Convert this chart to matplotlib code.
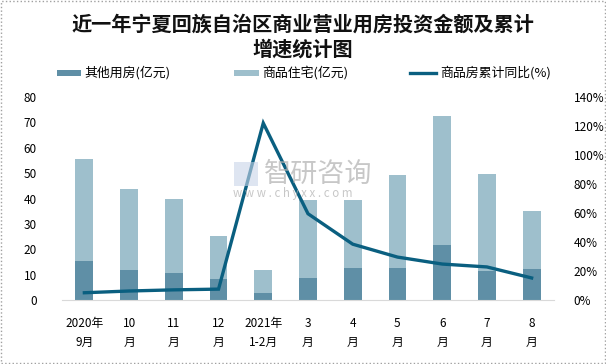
import matplotlib
matplotlib.use("Agg")
import matplotlib.pyplot as plt
from matplotlib.patches import Rectangle
from matplotlib.lines import Line2D
import numpy as np

plt.rcParams['font.family'] = ['Noto Sans CJK SC', 'DejaVu Sans']

categories = ["2020年\n9月", "10\n月", "11\n月", "12\n月", "2021年\n1-2月", "3\n月",
              "4\n月", "5\n月", "6\n月", "7\n月", "8\n月"]
other_use = [15.5, 11.8, 10.6, 8.3, 2.8, 8.7, 12.6, 12.6, 21.5, 11.5, 12.2]
residential = [40.0, 31.9, 29.2, 16.9, 9.0, 30.7, 26.8, 36.6, 50.9, 38.1, 22.8]
growth = [5.0, 6.2, 7.0, 7.5, 122.0, 59.5, 38.5, 29.6, 24.8, 22.8, 15.2]

left_ticks = [0, 10, 20, 30, 40, 50, 60, 70, 80]
right_ticks = [0, 20, 40, 60, 80, 100, 120, 140]
legend_labels = ["其他用房(亿元)", "商品住宅(亿元)", "商品房累计同比(%)"]

c_dark = '#5f8fa6'
c_light = '#9ebfcc'
c_line = '#0a5f80'

W, H = 606, 364
fig = plt.figure(figsize=(6.06, 3.64), dpi=100)
ax = fig.add_axes([62/W, 1-300/H, 492/W, 203/H])
x = np.arange(len(categories))
ax.bar(x, other_use, width=0.4, color=c_dark, zorder=2)
ax.bar(x, residential, width=0.4, bottom=other_use, color=c_light, zorder=2)
ax.set_xlim(-0.5, len(categories) - 0.5)
ax.set_ylim(0, 80)
ax.set_yticks(left_ticks)
ax.set_yticklabels([str(t) for t in left_ticks], fontsize=8.5)
ax.set_xticks(x)
ax.set_xticklabels(categories, fontsize=8.5, linespacing=1.6)
ax.tick_params(length=0, pad=12)
ax.tick_params(axis='y', pad=18)
for s in ['top', 'right', 'left']:
    ax.spines[s].set_visible(False)
ax.spines['bottom'].set_color('#d9d9d9')
ax.spines['bottom'].set_zorder(3)

ax2 = ax.twinx()
ax2.plot(x, growth, color=c_line, lw=2.4, zorder=4, solid_joinstyle='miter')
ax2.set_ylim(0, 140)
ax2.set_yticks(right_ticks)
ax2.set_yticklabels([f"{t}%" for t in right_ticks], fontsize=8.5)
ax2.tick_params(length=0, pad=14)
for s in ['top', 'right', 'left', 'bottom']:
    ax2.spines[s].set_visible(False)

# title
fig.text(0.5, 1-24/H, "近一年宁夏回族自治区商业营业用房投资金额及累计", ha='center', va='center',
         fontsize=14.5, fontweight='bold', color='#111111')
fig.text(0.5, 1-49/H, "增速统计图", ha='center', va='center',
         fontsize=14.5, fontweight='bold', color='#111111')

# legend (manual)
ly = 73
fs_leg = 9.3
fig.patches.append(Rectangle((57/W, 1-(ly+3)/H), 24/W, 6/H, transform=fig.transFigure,
                             facecolor=c_dark, edgecolor='none'))
fig.text(84/W, 1-ly/H, legend_labels[0], fontsize=fs_leg, ha='left', va='center')
fig.patches.append(Rectangle((234/W, 1-(ly+3)/H), 25/W, 6/H, transform=fig.transFigure,
                             facecolor=c_light, edgecolor='none'))
fig.text(262/W, 1-ly/H, legend_labels[1], fontsize=fs_leg, ha='left', va='center')
fig.lines.append(Line2D([410/W, 436/W], [1-ly/H, 1-ly/H], transform=fig.transFigure,
                        color=c_line, lw=2.4))
fig.text(440/W, 1-ly/H, legend_labels[2], fontsize=fs_leg, ha='left', va='center')

# watermark
fig.text(264/W, 1-174/H, "智研咨询", fontsize=19.5, color='#b0b0b0', alpha=0.7,
         ha='left', va='center', zorder=5)
fig.text(233/W, 1-194/H, "w w w . c h y x x . c o m", fontsize=8.3, color='#b0b0b0', alpha=0.7,
         ha='left', va='center', zorder=5)
fig.patches.append(Rectangle((234/W, 1-186/H), 24/W, 24/H, transform=fig.transFigure,
                             facecolor='#c8d4e8', alpha=0.6, edgecolor='none', zorder=5))

# border
fig.patches.append(Rectangle((0.001, 0.002), 0.997, 0.995, transform=fig.transFigure,
                             fill=False, edgecolor='#a0a0a0', lw=1, linestyle=':'))

fig.savefig("out.png", dpi=100)
